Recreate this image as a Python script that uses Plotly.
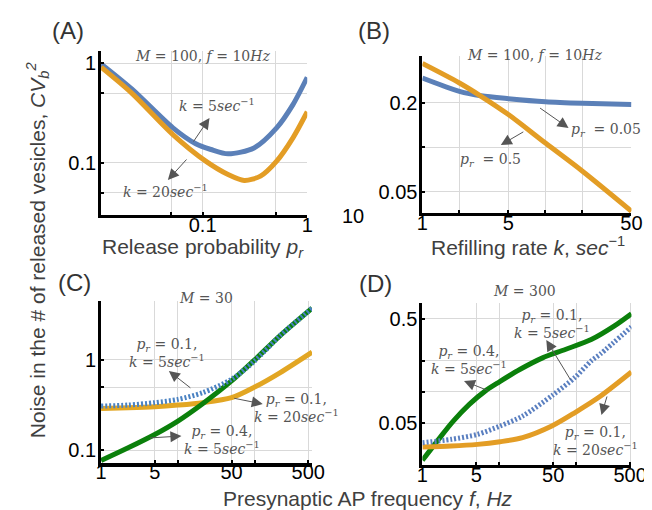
import plotly.graph_objs as go
import numpy as np

W, H = 652, 510

# panel A: CV_b^2 vs release probability p_r (M=100, f=10Hz)
pr_a = [0.0107, 0.021, 0.052, 0.086, 0.12, 0.175, 0.31, 0.51, 0.73, 1.0]
cv_a_k5 = [0.98, 0.55, 0.224, 0.155, 0.136, 0.123, 0.141, 0.224, 0.383, 0.72]
pr_a2 = [0.0107, 0.021, 0.052, 0.107, 0.175, 0.25, 0.357, 0.51, 0.73, 1.0]
cv_a_k20 = [0.91, 0.50, 0.192, 0.104, 0.0764, 0.0666, 0.0736, 0.104, 0.178, 0.325]

# panel B: CV_b^2 vs refilling rate k
k_b = [1, 2, 3, 5, 10, 20, 50]
cv_b_p005 = [0.295, 0.24, 0.224, 0.214, 0.204, 0.199, 0.195]
cv_b_p05 = [0.37, 0.273, 0.222, 0.167, 0.107, 0.069, 0.037]

# panel C: CV_b^2 vs AP frequency (M=30)
f_c = [1, 2.25, 5, 10, 21, 50, 100, 213, 560]
cv_c_p04_k5 = [0.0766, 0.106, 0.149, 0.21, 0.327, 0.585, 1.0, 1.85, 3.75]
cv_c_p01_k5 = [0.308, 0.316, 0.336, 0.365, 0.433, 0.61, 0.975, 1.85, 3.75]
cv_c_p01_k20 = [0.29, 0.295, 0.303, 0.316, 0.336, 0.381, 0.5, 0.72, 1.22]

# panel D: CV_b^2 vs AP frequency (M=300)
f_d_g = [1.0, 1.7, 2.5, 4.1, 6.65, 10, 18.4, 36.4, 71.8, 156, 309, 520]
cv_d_p04_k5 = [0.0222, 0.0368, 0.0523, 0.0764, 0.103, 0.125, 0.164, 0.212, 0.255, 0.317, 0.426, 0.56]
f_d = [1, 2.37, 5.2, 10.2, 20, 50, 95, 156, 207, 520]
cv_d_p01_k5 = [0.0327, 0.0352, 0.0393, 0.0472, 0.0587, 0.094, 0.137, 0.198, 0.232, 0.42]
f_d2 = [1, 2.37, 5.2, 10.2, 20, 48, 95, 207, 520]
cv_d_p01_k20 = [0.0298, 0.0304, 0.0315, 0.0334, 0.0365, 0.0472, 0.0632, 0.0914, 0.155]

BLUE = '#5B80B8'
ORANGE = '#E39D25'
GREEN = '#0B800B'
GRAY = '#555555'

fig = go.Figure()


def px(x, y):
    return x / W, 1 - y / H


def add_line(x, y, ax, color, dash='solid'):
    xa = 'x' if ax == 1 else 'x%d' % ax
    ya = 'y' if ax == 1 else 'y%d' % ax
    fig.add_trace(go.Scatter(x=x, y=y, xaxis=xa, yaxis=ya, mode='lines',
                             line=dict(color=color, width=5, dash=dash, shape='spline', smoothing=0.8),
                             showlegend=False, hoverinfo='skip'))


add_line(pr_a, cv_a_k5, 1, BLUE)
add_line(pr_a2, cv_a_k20, 1, ORANGE)
add_line(k_b, cv_b_p005, 2, BLUE)
add_line(k_b, cv_b_p05, 2, ORANGE)
add_line(f_c, cv_c_p01_k20, 3, '#E2A623')
add_line(f_c, cv_c_p04_k5, 3, GREEN)
add_line(f_c, cv_c_p01_k5, 3, '#4A82C2', dash='2px,2px')
add_line(f_d_g, cv_d_p04_k5, 4, GREEN)
add_line(f_d2, cv_d_p01_k20, 4, ORANGE)
add_line(f_d, cv_d_p01_k5, 4, '#5A7FC0', dash='2px,2px')

tick_font = dict(family='Liberation Sans, Arial', size=20, color='black')


def axis(domain, rng, vals, labels, anchor, standoff=0, lw=3):
    return dict(type='log', domain=domain, range=[np.log10(rng[0]), np.log10(rng[1])],
                tickvals=vals, ticktext=labels, tickfont=tick_font,
                showgrid=True, gridcolor='#d9d9d9', gridwidth=1,
                showline=True, linecolor='black', linewidth=lw, mirror=False,
                ticks='inside', ticklen=3, tickwidth=1.5, tickcolor='black',
                ticklabelstandoff=standoff, zeroline=False, anchor=anchor)


fig.update_layout(
    width=W, height=H, margin=dict(l=0, r=0, t=0, b=0),
    plot_bgcolor='white', paper_bgcolor='white',
    xaxis=axis([90 / W, 303 / W], [0.0107, 1], [0.05, 0.1, 0.5, 1], ['', '0.1', '', '1'], 'y', -10),
    yaxis=axis([1 - 207 / H, 1 - 43 / H], [0.03, 1.32], [0.05, 0.1, 0.5, 1], ['', '0.1', '', '1'], 'x', -2),
    xaxis2=axis([422 / W, 638 / W], [1, 50], [1, 2, 5, 10, 20, 50], ['1', '', '5', '', '', '50'], 'y2', -10),
    yaxis2=axis([1 - 205 / H, 1 - 48 / H], [0.036, 0.416], [0.05, 0.1, 0.2], ['0.05', '', '0.2'], 'x2', -2),
    xaxis3=axis([90 / W, 308 / W], [1, 560], [1, 5, 10, 50, 100, 500], ['1', '5', '', '50', '', '500'], 'y3', -12, 4),
    yaxis3=axis([1 - 455 / H, 1 - 293 / H], [0.072, 4.5], [0.1, 0.5, 1], ['0.1', '', '1'], 'x3', -2),
    xaxis4=axis([422 / W, 638 / W], [1, 520], [1, 5, 10, 50, 100, 500], ['1', '5', '', '50', '', '500'], 'y4', -10),
    yaxis4=axis([1 - 457 / H, 1 - 295 / H], [0.02, 0.71], [0.05, 0.1, 0.2, 0.5], ['0.05', '', '', '0.5'], 'x4', -2),
)

ann = []
title_font = dict(family='Liberation Sans, Arial', size=21, color='#404040')
label_font = dict(family='DejaVu Serif', size=14, color=GRAY)


def text(x, y, s, font, angle=0):
    xp, yp = px(x, y)
    ann.append(dict(x=xp, y=yp, xref='paper', yref='paper', text=s, showarrow=False,
                    font=font, textangle=angle, xanchor='center', yanchor='middle'))


def arrow(tx, ty, hx, hy):
    xp, yp = px(hx, hy)
    ann.append(dict(x=xp, y=yp, xref='paper', yref='paper', text='', showarrow=True,
                    ax=tx - hx, ay=ty - hy, arrowhead=2, arrowsize=2.2, arrowwidth=1,
                    arrowcolor=GRAY, standoff=0, startstandoff=0))


# panel letters
for s, x, y in [('(A)', 56, 23), ('(B)', 372, 23), ('(C)', 62, 274), ('(D)', 374, 275)]:
    text(x, y, s, dict(family='Liberation Sans, Arial', size=24, color='#333333'))

# stray tick label
text(350, 208, '10', tick_font)

# axis titles
text(195, 240, 'Release probability <i>p<sub>r</sub></i>', title_font)
text(531, 238, 'Refilling rate <i>k</i>, <i>sec</i><sup>−1</sup>', title_font)
text(366, 490, 'Presynaptic AP frequency <i>f</i>, <i>Hz</i>', title_font)
text(24, 242, 'Noise in the # of released vesicles, <i>CV<sub>b</sub><sup>2</sup></i>', title_font, -90)

# curve labels
text(195, 48, '<i>M</i> = 100, <i>f</i> = 10<i>Hz</i>', label_font)
text(210, 97, '<i>k</i> = 5<i>sec</i><sup>−1</sup>', label_font)
text(157, 183, '<i>k</i> = 20<i>sec</i><sup>−1</sup>', label_font)
arrow(185, 135, 202, 110)
arrow(179, 150, 159, 172)

text(538, 47, '<i>M</i> = 100, <i>f</i> = 10<i>Hz</i>', label_font)
text(612, 122, '<i>p<sub>r</sub></i>  = 0.05', label_font)
text(492, 152, '<i>p<sub>r</sub></i>  = 0.5', label_font)
arrow(543, 99, 573, 120)
arrow(527, 123, 503, 137)

text(198, 290, '<i>M</i> = 30', label_font)
text(158, 345, '<i>p<sub>r</sub></i> = 0.1,<br><i>k</i> = 5<i>sec</i><sup>−1</sup>', label_font)
arrow(183, 381, 160, 363)
text(292, 400, '<i>p<sub>r</sub></i> = 0.1,<br><i>k</i> = 20<i>sec</i><sup>−1</sup>', label_font)
arrow(227, 390, 257, 396)
text(215, 432, '<i>p<sub>r</sub></i> = 0.4,<br><i>k</i> = 5<i>sec</i><sup>−1</sup>', label_font)
arrow(140, 430, 173, 428)

text(527, 283, '<i>M</i> = 300', label_font)
text(556, 316, '<i>p<sub>r</sub></i> = 0.1,<br><i>k</i> = 5<i>sec</i><sup>−1</sup>', label_font)
arrow(575, 373, 550, 332)
text(470, 352, '<i>p<sub>r</sub></i> = 0.4,<br><i>k</i> = 5<i>sec</i><sup>−1</sup>', label_font)
arrow(490, 383, 465, 373)
text(601, 433, '<i>p<sub>r</sub></i> = 0.1,<br><i>k</i> = 20<i>sec</i><sup>−1</sup>', label_font)
arrow(613, 387, 607, 407)

fig.update_layout(annotations=ann)
fig.write_html("out.html")
